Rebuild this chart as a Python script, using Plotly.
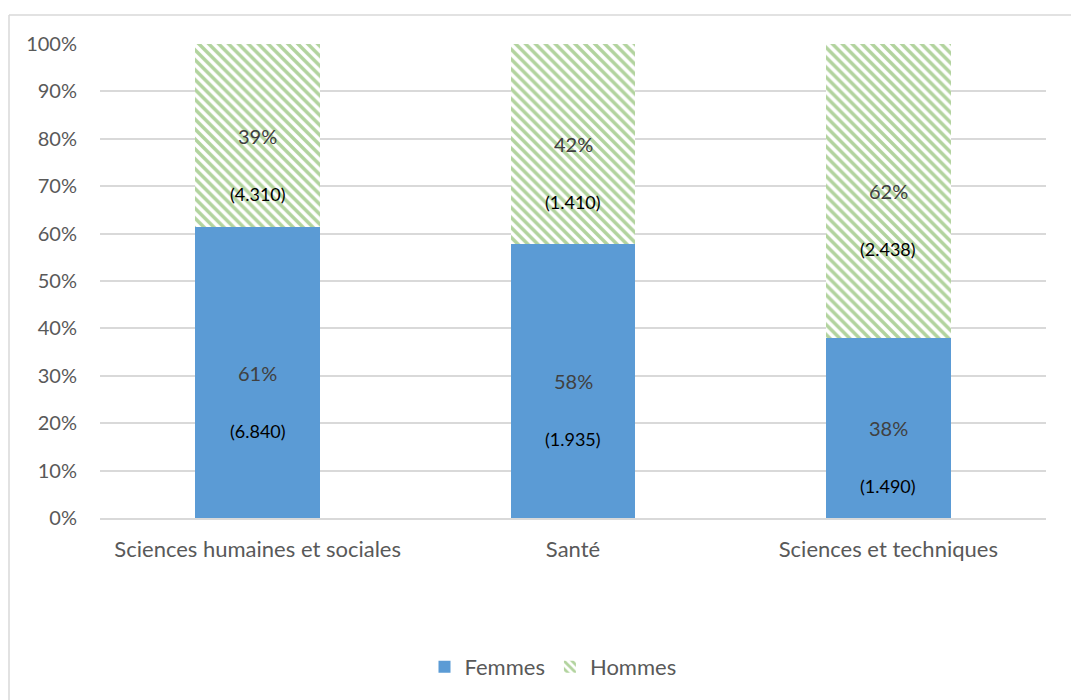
import plotly.graph_objects as go

categories = ["Sciences humaines et sociales", "Santé", "Sciences et techniques"]
femmes = [6840, 1935, 1490]
hommes = [4310, 1410, 2438]
femmes_pct_labels = ["61%", "58%", "38%"]
hommes_pct_labels = ["39%", "42%", "62%"]
femmes_count_labels = ["(6.840)", "(1.935)", "(1.490)"]
hommes_count_labels = ["(4.310)", "(1.410)", "(2.438)"]

FONT = "Lato, Open Sans, sans-serif"
OFF = 8  # page body offset
W, H = 1079 - OFF, 700 - OFF
L, T = 100 - OFF, 44 - OFF
R = W - (1046 - OFF)
B = H - (518 - OFF)

tot = [f + h for f, h in zip(femmes, hommes)]
f_pct = [f / t * 100 for f, t in zip(femmes, tot)]
h_pct = [h / t * 100 for h, t in zip(hommes, tot)]

fig = go.Figure()
fig.add_trace(go.Bar(
    x=categories, y=f_pct, name="Femmes",
    marker=dict(color="#5B9BD5", line=dict(width=0)),
))
fig.add_trace(go.Bar(
    x=categories, y=h_pct, name="Hommes",
    marker=dict(color="white", line=dict(width=0),
                pattern=dict(shape="\\", fgcolor="#66A83E", bgcolor="white",
                             size=7, solidity=0.5, fillmode="overlay")),
))

annotations = []
for i, c in enumerate(categories):
    fm = f_pct[i] / 2
    hm = f_pct[i] + h_pct[i] / 2
    annotations.append(dict(x=c, y=fm, text=femmes_pct_labels[i], showarrow=False,
                            font=dict(family=FONT, size=20, color="#404040")))
    annotations.append(dict(x=c, y=fm, yshift=-58, text=femmes_count_labels[i], showarrow=False,
                            font=dict(family=FONT, size=18, color="#000000")))
    annotations.append(dict(x=c, y=hm, text=hommes_pct_labels[i], showarrow=False,
                            font=dict(family=FONT, size=20, color="#404040")))
    annotations.append(dict(x=c, y=hm, yshift=-58, text=hommes_count_labels[i], showarrow=False,
                            font=dict(family=FONT, size=18, color="#000000")))

pw = W - L - R
ph = H - T - B
def px_x(p):
    return (p - OFF - L) / pw
def px_y(p):
    return (H - B - (p - OFF)) / ph

shapes = [
    dict(type="line", xref="paper", yref="paper", x0=px_x(9), x1=px_x(1079), y0=px_y(15), y1=px_y(15),
         line=dict(color="#d9d9d9", width=1.5)),
    dict(type="line", xref="paper", yref="paper", x0=px_x(9), x1=px_x(9), y0=px_y(15), y1=px_y(700),
         line=dict(color="#d9d9d9", width=1.5)),
]

fig.update_layout(
    barmode="stack",
    bargap=0.604,
    width=W, height=H,
    margin=dict(l=L, r=R, t=T, b=B),
    paper_bgcolor="white", plot_bgcolor="white",
    font=dict(family=FONT, size=20, color="#595959"),
    showlegend=True,
    legend=dict(orientation="h", x=px_x(553), xanchor="center", y=px_y(667), yanchor="middle",
                font=dict(family=FONT, size=22, color="#595959"),
                traceorder="normal"),
    annotations=annotations,
    shapes=shapes,
    xaxis=dict(showgrid=False, showline=True, linecolor="#d9d9d9", linewidth=1.5,
               ticks="", ticklabelstandoff=11,
               tickfont=dict(family=FONT, size=22, color="#595959")),
    yaxis=dict(range=[0, 100], dtick=10, ticksuffix="%", showgrid=True, gridcolor="#d9d9d9",
               gridwidth=1.5, zeroline=False, showline=False, ticks="", ticklabelstandoff=22,
               tickfont=dict(family=FONT, size=20, color="#595959")),
)

fig.write_html("out.html")
